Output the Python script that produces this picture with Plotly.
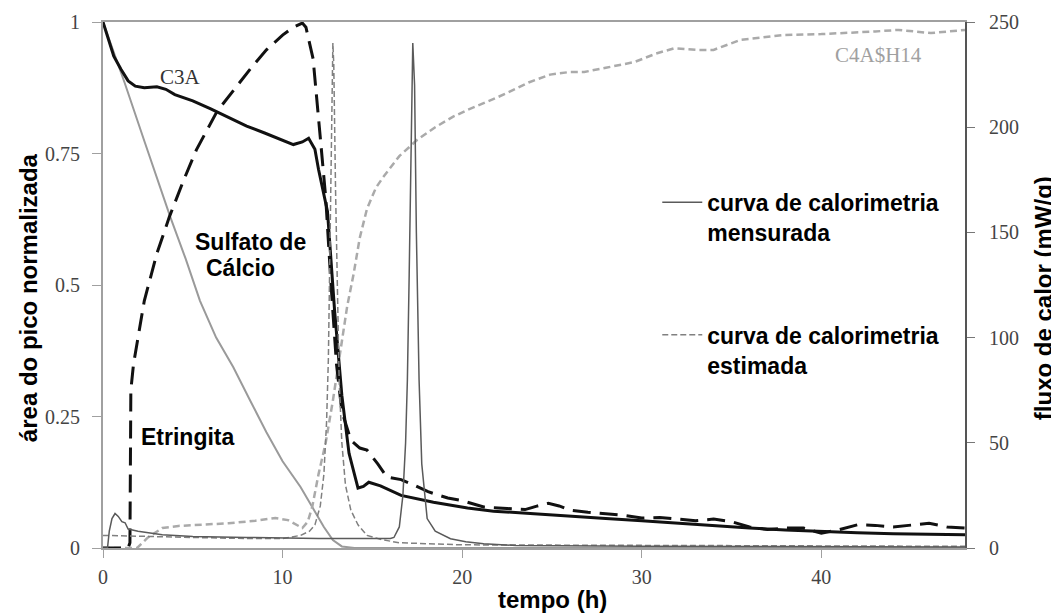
import plotly.graph_objects as go

# ---------------- data ----------------
# C3A  (left axis, normalized peak area)
c3a_t = [0, 0.3, 0.6, 1.0, 1.4, 1.8, 2.3, 3.0, 3.5, 4.0, 5.0, 6.0, 7.0, 8.0, 9.0, 10.0,
         10.6, 11.1, 11.45, 11.8, 12.0, 12.5, 12.9, 13.3, 13.7, 14.2, 14.5, 14.8, 15.45,
         16.6, 18.4, 20.3, 21.75, 24, 26, 28, 30, 32, 34, 36, 38, 40, 42, 44, 46, 48]
c3a_v = [1.0, 0.965, 0.935, 0.91, 0.888, 0.878, 0.875, 0.877, 0.872, 0.862, 0.85, 0.835,
         0.818, 0.802, 0.789, 0.776, 0.767, 0.772, 0.779, 0.758, 0.72, 0.64, 0.45, 0.29,
         0.18, 0.114, 0.117, 0.125, 0.118, 0.10, 0.087, 0.076, 0.07, 0.065, 0.06, 0.056,
         0.052, 0.047, 0.043, 0.038, 0.034, 0.031, 0.029, 0.027, 0.026, 0.025]

# Sulfato de Calcio (left axis)
sulf_t = [0, 1.2, 2.34, 3.74, 4.6, 5.4, 6.3, 7.25, 8.2, 9.1, 10.0, 11.0, 11.7, 12.3,
          12.8, 13.3, 14.0, 20, 30, 40, 48]
sulf_v = [1.0, 0.885, 0.77, 0.63, 0.55, 0.47, 0.40, 0.344, 0.28, 0.22, 0.165, 0.116,
          0.075, 0.04, 0.015, 0.003, 0.0, 0.0, 0.0, 0.0, 0.0]

# Etringita (left axis)
etr_t = [0, 1.4, 1.5, 1.55, 1.7, 2.0, 2.3, 3.0, 3.7, 4.5, 5.2, 6.35, 7.5, 8.3, 9.1, 10.0,
         10.6, 11.1, 11.3, 11.7, 12.1, 12.4, 12.7, 13.0, 13.3, 13.8, 14.3, 14.7, 15.3, 15.8,
         16.6, 17.3, 18.1, 19.2, 20.0, 21.2, 22.5, 23.5, 24.2, 24.8, 25.4, 26, 27, 28, 29,
         30, 31, 32, 33, 34, 35, 36, 37, 38, 39, 40, 41, 42, 43, 44, 45, 46, 47, 48]
etr_v = [0.0, 0.0, 0.01, 0.30, 0.35, 0.41, 0.47, 0.56, 0.63, 0.70, 0.757, 0.83, 0.88,
         0.915, 0.947, 0.975, 0.99, 0.998, 0.99, 0.93, 0.78, 0.667, 0.50, 0.35, 0.26,
         0.205, 0.19, 0.186, 0.16, 0.135, 0.13, 0.12, 0.107, 0.095, 0.09, 0.078, 0.075,
         0.073, 0.08, 0.085, 0.08, 0.072, 0.068, 0.065, 0.062, 0.057, 0.058, 0.055, 0.052,
         0.055, 0.05, 0.04, 0.035, 0.038, 0.038, 0.028, 0.035, 0.044, 0.043, 0.04, 0.043,
         0.047, 0.04, 0.038]

# C4A$H14 (left axis)
c4_t = [0, 1.9, 2.5, 3.3, 4.2, 5.5, 7.0, 8.5, 9.6, 10.3, 10.8, 11.1, 11.4, 11.65, 12.0,
        12.4, 12.8, 13.2, 13.6, 13.95, 14.3, 14.7, 15.2, 15.6, 16.5, 17.5, 18.5, 19.5,
        20.3, 21.5, 22.5, 23.7, 24.9, 26.0, 26.8, 28.0, 29.6, 30.8, 31.8, 33.1, 34.0, 35.5,
        37.8, 40.0, 41.5, 43.0, 44.3, 46.1, 48.0]
c4_v = [0.0, 0.0, 0.02, 0.038, 0.042, 0.044, 0.047, 0.052, 0.057, 0.053, 0.044, 0.038,
        0.05, 0.078, 0.14, 0.20, 0.28, 0.37, 0.46, 0.52, 0.59, 0.645, 0.685, 0.705, 0.745,
        0.776, 0.80, 0.82, 0.833, 0.85, 0.865, 0.885, 0.90, 0.905, 0.905, 0.913, 0.924,
        0.94, 0.95, 0.947, 0.947, 0.966, 0.975, 0.977, 0.979, 0.982, 0.985, 0.979, 0.985]

# Calorimetry measured (right axis, mW/g)
cal_m_t = [0, 0.25, 0.35, 0.5, 0.67, 0.85, 1.05, 1.23, 1.4, 1.95, 3.3, 5.0, 8.0, 12.0,
           16.0, 16.2, 16.5, 16.7, 16.85, 16.95, 17.05, 17.15, 17.25, 17.35, 17.45, 17.6,
           17.75, 18.05, 18.5, 19.35, 20.2, 21.2, 23.0, 30.0, 48.0]
cal_m_v = [0, 0, 8, 14, 16.4, 15, 12.5, 12, 9, 8, 6.3, 5.5, 5.0, 4.5, 4.5, 5, 10, 25, 50,
           80, 130, 190, 240, 220, 150, 80, 40, 14, 8, 4.4, 3, 2, 1.2, 0.8, 0.5]

# Calorimetry estimated (right axis, mW/g)
cal_e_t = [0, 2, 5, 8, 10, 11, 11.5, 11.8, 12.1, 12.3, 12.45, 12.55, 12.65, 12.75, 12.8,
           12.85, 12.95, 13.05, 13.15, 13.3, 13.5, 13.8, 14.2, 14.7, 15.5, 16.5, 18, 20, 48]
cal_e_v = [6, 5.5, 5, 4.5, 4.5, 6, 8, 11, 20, 35, 60, 90, 140, 210, 240, 230, 170, 120,
           80, 50, 30, 18, 11, 6, 4, 2.5, 2, 1.5, 0.8]

x_ticks = [0, 10, 20, 30, 40]
y_ticks = [0, 0.25, 0.5, 0.75, 1]
y_tick_text = ["0", "0.25", "0.5", "0.75", "1"]
y2_ticks = [0, 50, 100, 150, 200, 250]

# ---------------- figure ----------------
fig = go.Figure()

fig.add_trace(go.Scatter(x=sulf_t, y=sulf_v, mode="lines", name="Sulfato de Cálcio",
                         line=dict(color="#9a9a9a", width=2), showlegend=False))
fig.add_trace(go.Scatter(x=c4_t, y=c4_v, mode="lines", name="C4A$H14",
                         line=dict(color="#aaaaaa", width=2.5, dash="7px,4px"), showlegend=False))
fig.add_trace(go.Scatter(x=cal_e_t, y=cal_e_v, mode="lines", yaxis="y2",
                         name="<b>curva de calorimetria<br>estimada</b>",
                         line=dict(color="#808080", width=1.5, dash="6px,3px"),
                         legend="legend2"))
fig.add_trace(go.Scatter(x=cal_m_t, y=cal_m_v, mode="lines", yaxis="y2",
                         name="<b>curva de calorimetria<br>mensurada</b>",
                         line=dict(color="#5a5a5a", width=1.5), legend="legend"))
fig.add_trace(go.Scatter(x=c3a_t, y=c3a_v, mode="lines", name="C3A",
                         line=dict(color="#111111", width=3), showlegend=False))
fig.add_trace(go.Scatter(x=etr_t, y=etr_v, mode="lines", name="Etringita",
                         line=dict(color="#111111", width=3, dash="18px,9px"), showlegend=False))

tick_font = dict(family="Liberation Serif", size=20, color="#444444")
bold_font = dict(family="Liberation Sans", size=23, color="#000000")
title_font = dict(family="Liberation Sans", size=24, color="#000000")

# the page body keeps an 8 px margin, so the figure is sized to fit inside it
fig.update_layout(
    width=1051, height=606,
    margin=dict(l=95, r=94, t=14, b=66, autoexpand=False),
    paper_bgcolor="white", plot_bgcolor="white",
    xaxis=dict(range=[0, 48], tickvals=x_ticks, showgrid=False, zeroline=False,
               showline=True, linecolor="#a0a0a0", linewidth=2, mirror=True,
               ticks="outside", ticklen=8, tickcolor="#a0a0a0", tickfont=tick_font,
               ticklabelstandoff=2, automargin=False),
    yaxis=dict(range=[0, 1], tickvals=y_ticks, ticktext=y_tick_text, showgrid=False,
               zeroline=False, showline=True, linecolor="#a0a0a0", linewidth=2,
               ticks="outside", ticklen=9, tickcolor="#a0a0a0", tickfont=tick_font,
               ticklabelstandoff=8, automargin=False),
    yaxis2=dict(range=[0, 250], tickvals=y2_ticks, overlaying="y", side="right",
                showgrid=False, zeroline=False, showline=True, linecolor="#555555",
                linewidth=2, ticks="outside", ticklen=8, tickcolor="#777777",
                tickfont=tick_font, ticklabelstandoff=10, automargin=False),
    legend=dict(x=0.643, y=0.698, xanchor="left", yanchor="top", bgcolor="rgba(0,0,0,0)",
                font=bold_font, valign="top", itemwidth=40),
    legend2=dict(x=0.643, y=0.446, xanchor="left", yanchor="top", bgcolor="rgba(0,0,0,0)",
                 font=bold_font, valign="top", itemwidth=40),
    annotations=[
        dict(x=4.3, y=0.895, xref="x", yref="y", text="C3A", showarrow=False,
             font=dict(family="Liberation Serif", size=21, color="#333333")),
        dict(x=8.2, y=0.582, xref="x", yref="y", text="<b>Sulfato de</b>", showarrow=False,
             font=bold_font),
        dict(x=7.65, y=0.532, xref="x", yref="y", text="<b>Cálcio</b>", showarrow=False,
             font=bold_font),
        dict(x=4.68, y=0.211, xref="x", yref="y", text="<b>Etringita</b>", showarrow=False,
             font=bold_font),
        dict(x=43.2, y=0.937, xref="x", yref="y", text="C4A$H14", showarrow=False,
             font=dict(family="Liberation Serif", size=21, color="#a0a0a0")),
        dict(x=0.521, y=-0.098, xref="paper", yref="paper", text="<b>tempo (h)</b>",
             showarrow=False, xanchor="center", yanchor="middle", font=title_font),
        dict(x=-0.087, y=0.475, xref="paper", yref="paper", text="<b>área do pico normalizada</b>",
             showarrow=False, textangle=-90, xanchor="center", yanchor="middle",
             font=title_font),
        dict(x=1.0905, y=0.475, xref="paper", yref="paper", text="<b>fluxo de calor (mW/g)</b>",
             showarrow=False, textangle=-90, xanchor="center", yanchor="middle",
             font=title_font),
    ],
)

fig.write_html("out.html")
